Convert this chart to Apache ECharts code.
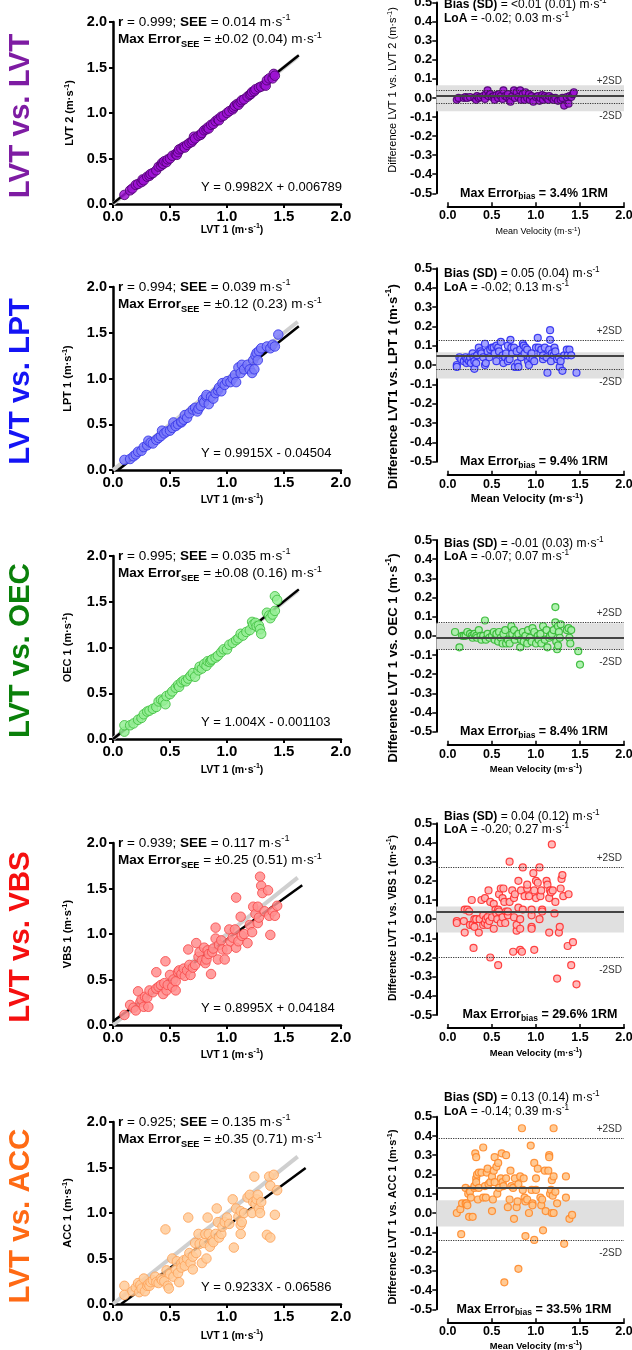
<!DOCTYPE html>
<html>
<head>
<meta charset="utf-8">
<script src="https://cdn.jsdelivr.net/npm/echarts@6/dist/echarts.min.js"></script>
<style>
html, body { margin: 0; padding: 0; background: #fff; }
#chart { width: 632px; height: 1350px; }
</style>
</head>
<body>
<div id="chart"></div>
<script>
var F = 'Liberation Sans, Arial, sans-serif';

// ---- row texts ----
var rowTitles = ['LVT vs. LVT', 'LVT vs. LPT', 'LVT vs. OEC', 'LVT vs. VBS', 'LVT vs. ACC'];
var rowColors = ['#7e1ca3', '#1414f5', '#0a800a', '#f50f0f', '#ff6a14'];
var yNames = ['LVT 2', 'LPT 1', 'OEC 1', 'VBS 1', 'ACC 1'];
var baNames = ['LVT 1 vs. LVT 2', 'LVT1 vs. LPT 1', 'LVT 1 vs. OEC 1', 'LVT 1 vs. VBS 1', 'LVT 1 vs. ACC 1'];
var rStat = ['0.999', '0.994', '0.995', '0.939', '0.925'];
var seeStat = ['0.014', '0.039', '0.035', '0.117', '0.135'];
var maxErrSee = ['±0.02 (0.04)', '±0.12 (0.23)', '±0.08 (0.16)', '±0.25 (0.51)', '±0.35 (0.71)'];
var eqText = ['Y = 0.9982X + 0.006789', 'Y = 0.9915X - 0.04504', 'Y = 1.004X - 0.001103', 'Y = 0.8995X + 0.04184', 'Y = 0.9233X - 0.06586'];
var biasText = ['<0.01 (0.01)', '0.05 (0.04)', '-0.01 (0.03)', '0.04 (0.12)', '0.13 (0.14)'];
var loaText = ['-0.02; 0.03', '-0.02; 0.13', '-0.07; 0.07', '-0.20; 0.27', '-0.14; 0.39'];
var maxErrBias = ['3.4%', '9.4%', '8.4%', '29.6%', '33.5%'];

// ---- regression / agreement values ----
var slopes = [0.9982, 0.9915, 1.004, 0.8995, 0.9233];
var intercepts = [0.006789, -0.04504, -0.001103, 0.04184, -0.06586];
var fitEnds = [1.63, 1.63, 1.63, 1.66, 1.69];
var identityEnd = 1.62;
var biasLine = [0.005, 0.048, -0.005, 0.035, 0.127];
var loaLow = [-0.025, -0.024, -0.068, -0.203, -0.145];
var loaHigh = [0.036, 0.127, 0.067, 0.269, 0.392];
var bandLow = -0.07, bandHigh = 0.066;

// ---- points: [LVT 1, device] ----
var scLVT = [[0.10,0.10],[0.15,0.15],[0.17,0.17],[0.20,0.21],[0.22,0.22],[0.25,0.24],[0.26,0.27],[0.27,0.26],[0.30,0.30],[0.32,0.31],[0.33,0.33],[0.35,0.34],[0.38,0.37],[0.40,0.41],[0.42,0.42],[0.43,0.45],[0.44,0.44],[0.45,0.47],[0.47,0.46],[0.48,0.49],[0.50,0.50],[0.52,0.53],[0.55,0.55],[0.56,0.54],[0.57,0.57],[0.58,0.60],[0.60,0.61],[0.62,0.63],[0.63,0.62],[0.65,0.65],[0.67,0.67],[0.69,0.68],[0.70,0.70],[0.71,0.74],[0.72,0.72],[0.75,0.75],[0.77,0.76],[0.78,0.78],[0.80,0.81],[0.82,0.82],[0.83,0.84],[0.84,0.83],[0.86,0.87],[0.88,0.88],[0.90,0.91],[0.92,0.93],[0.93,0.92],[0.95,0.96],[0.97,0.97],[1.00,1.00],[1.02,1.02],[1.05,1.04],[1.06,1.06],[1.07,1.08],[1.09,1.10],[1.10,1.09],[1.12,1.12],[1.13,1.14],[1.15,1.15],[1.18,1.18],[1.20,1.20],[1.21,1.21],[1.22,1.23],[1.24,1.24],[1.25,1.26],[1.28,1.28],[1.30,1.29],[1.33,1.31],[1.34,1.30],[1.35,1.36],[1.37,1.38],[1.40,1.38],[1.41,1.43],[1.42,1.41]];
var scLPT = [[0.10,0.11],[0.15,0.12],[0.18,0.15],[0.20,0.17],[0.22,0.20],[0.25,0.21],[0.27,0.25],[0.30,0.27],[0.31,0.32],[0.33,0.30],[0.35,0.29],[0.38,0.33],[0.40,0.35],[0.42,0.37],[0.43,0.43],[0.45,0.40],[0.47,0.42],[0.50,0.43],[0.52,0.46],[0.53,0.52],[0.55,0.48],[0.57,0.50],[0.60,0.52],[0.60,0.53],[0.62,0.55],[0.63,0.60],[0.65,0.57],[0.67,0.62],[0.70,0.66],[0.72,0.68],[0.74,0.64],[0.75,0.67],[0.77,0.70],[0.79,0.77],[0.80,0.74],[0.82,0.80],[0.82,0.82],[0.84,0.72],[0.86,0.80],[0.88,0.78],[0.90,0.84],[0.92,0.87],[0.93,0.90],[0.95,0.86],[0.96,0.95],[0.98,0.93],[1.00,0.97],[1.03,0.96],[1.05,1.00],[1.07,1.04],[1.08,0.96],[1.10,1.12],[1.12,1.06],[1.13,1.15],[1.15,1.10],[1.18,1.15],[1.20,1.10],[1.22,1.06],[1.23,1.20],[1.24,1.10],[1.25,1.25],[1.26,1.28],[1.27,1.20],[1.28,1.30],[1.30,1.33],[1.35,1.35],[1.38,1.33],[1.40,1.37],[1.42,1.35],[1.45,1.48]];
var scOEC = [[0.10,0.08],[0.10,0.15],[0.15,0.15],[0.18,0.17],[0.22,0.21],[0.25,0.23],[0.27,0.27],[0.30,0.30],[0.32,0.31],[0.35,0.33],[0.38,0.35],[0.40,0.41],[0.42,0.43],[0.44,0.42],[0.46,0.38],[0.47,0.47],[0.50,0.49],[0.52,0.52],[0.55,0.56],[0.57,0.59],[0.58,0.57],[0.60,0.62],[0.62,0.64],[0.64,0.63],[0.66,0.66],[0.68,0.69],[0.70,0.72],[0.72,0.68],[0.75,0.75],[0.76,0.79],[0.78,0.77],[0.80,0.82],[0.82,0.80],[0.83,0.85],[0.85,0.84],[0.86,0.86],[0.87,0.87],[0.90,0.89],[0.92,0.91],[0.95,0.95],[0.97,0.98],[1.00,0.98],[1.02,1.03],[1.05,1.05],[1.08,1.08],[1.10,1.10],[1.12,1.15],[1.14,1.13],[1.17,1.17],[1.20,1.19],[1.22,1.28],[1.23,1.25],[1.25,1.27],[1.26,1.23],[1.28,1.24],[1.29,1.20],[1.30,1.15],[1.35,1.38],[1.37,1.35],[1.38,1.32],[1.40,1.36],[1.42,1.40],[1.42,1.56],[1.44,1.52]];
var scVBS = [[0.10,0.11],[0.15,0.22],[0.18,0.19],[0.20,0.16],[0.22,0.37],[0.24,0.25],[0.25,0.28],[0.27,0.20],[0.28,0.31],[0.30,0.30],[0.31,0.20],[0.32,0.38],[0.35,0.36],[0.38,0.58],[0.38,0.40],[0.40,0.42],[0.42,0.44],[0.44,0.34],[0.45,0.46],[0.46,0.70],[0.47,0.38],[0.48,0.44],[0.50,0.55],[0.52,0.42],[0.53,0.50],[0.55,0.48],[0.55,0.38],[0.57,0.58],[0.58,0.60],[0.60,0.56],[0.62,0.62],[0.63,0.54],[0.65,0.60],[0.66,0.83],[0.67,0.66],[0.68,0.55],[0.70,0.63],[0.72,0.66],[0.73,0.90],[0.75,0.75],[0.76,0.80],[0.78,0.71],[0.80,0.85],[0.81,0.68],[0.82,0.72],[0.83,0.82],[0.84,0.78],[0.86,0.56],[0.87,0.80],[0.88,0.84],[0.90,1.07],[0.90,0.95],[0.92,0.72],[0.93,0.88],[0.95,0.93],[0.96,0.83],[0.98,0.72],[1.00,0.83],[1.02,1.05],[1.03,0.92],[1.05,0.96],[1.07,1.05],[1.08,1.40],[1.08,0.85],[1.10,0.92],[1.12,1.19],[1.13,0.98],[1.15,1.00],[1.18,0.90],[1.20,1.10],[1.22,1.02],[1.23,1.30],[1.25,1.22],[1.27,1.12],[1.27,1.30],[1.28,1.18],[1.29,1.63],[1.30,1.53],[1.31,1.45],[1.33,1.25],[1.36,1.48],[1.37,1.20],[1.38,0.99],[1.40,1.25],[1.42,1.20],[1.44,1.31]];
var scACC = [[0.10,0.20],[0.10,0.10],[0.17,0.14],[0.20,0.18],[0.22,0.23],[0.23,0.13],[0.24,0.21],[0.25,0.17],[0.27,0.28],[0.28,0.14],[0.30,0.20],[0.31,0.22],[0.32,0.20],[0.33,0.24],[0.35,0.26],[0.37,0.30],[0.38,0.24],[0.40,0.23],[0.42,0.28],[0.43,0.26],[0.45,0.25],[0.46,0.82],[0.47,0.37],[0.48,0.20],[0.49,0.17],[0.50,0.33],[0.52,0.50],[0.53,0.30],[0.55,0.38],[0.56,0.47],[0.57,0.34],[0.58,0.24],[0.60,0.45],[0.60,0.40],[0.62,0.48],[0.63,0.42],[0.65,0.50],[0.66,0.95],[0.67,0.56],[0.68,0.45],[0.70,0.38],[0.70,0.52],[0.72,0.67],[0.73,0.56],[0.75,0.77],[0.76,0.66],[0.78,0.45],[0.80,0.67],[0.81,0.77],[0.82,0.50],[0.83,0.95],[0.84,0.77],[0.85,0.63],[0.87,0.70],[0.88,0.68],[0.90,0.77],[0.91,1.05],[0.92,0.90],[0.93,0.73],[0.95,0.77],[0.96,0.85],[0.98,0.90],[1.00,0.95],[1.02,0.88],[1.05,1.15],[1.06,0.62],[1.08,1.05],[1.10,0.96],[1.12,0.77],[1.12,0.87],[1.12,1.02],[1.13,0.90],[1.15,1.00],[1.18,1.17],[1.20,1.20],[1.22,1.00],[1.23,1.12],[1.24,1.40],[1.25,1.10],[1.26,1.15],[1.27,1.20],[1.28,1.05],[1.29,1.00],[1.30,1.12],[1.35,0.76],[1.37,1.40],[1.38,1.30],[1.38,0.73],[1.41,1.42],[1.42,0.98],[1.44,1.25]];

// ---- points: [mean velocity, difference] ----
var baLVT = [[0.10,-0.01],[0.12,0.00],[0.18,0.00],[0.20,0.005],[0.22,0.00],[0.25,0.005],[0.30,0.00],[0.32,-0.01],[0.33,0.01],[0.35,0.00],[0.37,0.005],[0.40,0.01],[0.42,-0.005],[0.43,0.02],[0.45,0.04],[0.46,0.01],[0.48,0.02],[0.50,0.005],[0.52,0.01],[0.53,-0.01],[0.55,0.015],[0.57,0.00],[0.58,0.02],[0.60,0.01],[0.62,-0.005],[0.63,0.04],[0.65,0.01],[0.67,0.005],[0.68,0.02],[0.70,-0.01],[0.71,-0.02],[0.73,0.01],[0.75,0.04],[0.76,0.00],[0.78,0.03],[0.80,0.005],[0.82,0.04],[0.83,-0.01],[0.85,0.02],[0.87,-0.01],[0.88,0.03],[0.90,0.00],[0.92,0.02],[0.93,-0.01],[0.95,0.01],[0.97,-0.02],[1.00,0.005],[1.02,0.01],[1.04,-0.015],[1.05,0.00],[1.07,0.015],[1.08,-0.01],[1.10,0.01],[1.12,0.00],[1.14,-0.01],[1.15,0.01],[1.18,0.00],[1.20,-0.01],[1.22,0.00],[1.25,-0.015],[1.28,-0.01],[1.30,0.00],[1.32,-0.04],[1.35,0.005],[1.37,-0.03],[1.38,0.01],[1.40,0.005],[1.42,0.02],[1.43,0.03]];
var baLPT = [[0.10,0.00],[0.10,-0.01],[0.13,0.04],[0.15,0.03],[0.18,0.02],[0.20,0.04],[0.21,0.01],[0.22,0.03],[0.24,0.02],[0.25,0.04],[0.26,0.01],[0.28,0.06],[0.29,0.04],[0.30,0.02],[0.30,-0.02],[0.32,0.01],[0.33,0.05],[0.35,0.09],[0.37,0.07],[0.38,0.06],[0.40,0.04],[0.42,0.11],[0.42,0.00],[0.43,0.01],[0.45,0.07],[0.47,0.04],[0.48,0.08],[0.50,0.09],[0.52,0.09],[0.53,0.06],[0.55,0.10],[0.55,0.02],[0.57,0.09],[0.58,0.07],[0.60,0.12],[0.62,0.05],[0.63,0.01],[0.65,0.04],[0.66,0.06],[0.68,0.10],[0.68,0.02],[0.70,0.03],[0.71,0.13],[0.72,0.09],[0.73,0.06],[0.75,0.09],[0.76,-0.01],[0.78,0.07],[0.79,0.01],[0.80,-0.01],[0.82,0.08],[0.83,0.04],[0.85,0.11],[0.86,0.10],[0.87,0.06],[0.88,0.09],[0.90,0.08],[0.91,0.02],[0.92,0.00],[0.93,0.04],[0.95,0.06],[0.96,0.03],[0.98,0.02],[1.00,0.09],[1.02,0.14],[1.03,0.09],[1.05,0.06],[1.06,0.08],[1.08,0.03],[1.08,0.05],[1.10,0.09],[1.12,0.04],[1.13,-0.04],[1.15,0.08],[1.16,0.18],[1.16,0.13],[1.17,0.02],[1.18,0.06],[1.20,0.05],[1.21,0.09],[1.22,0.07],[1.24,0.03],[1.26,0.04],[1.27,-0.01],[1.28,0.02],[1.30,-0.03],[1.32,0.05],[1.35,0.08],[1.36,0.05],[1.38,0.08],[1.40,0.05],[1.46,-0.04]];
var baOEC = [[0.08,0.02],[0.13,-0.06],[0.16,0.00],[0.18,0.00],[0.20,0.00],[0.22,0.02],[0.25,0.01],[0.27,0.00],[0.28,-0.01],[0.30,0.01],[0.32,0.00],[0.33,-0.01],[0.35,0.03],[0.37,0.00],[0.38,-0.02],[0.40,0.00],[0.42,0.08],[0.43,-0.02],[0.45,0.01],[0.47,-0.01],[0.50,0.00],[0.52,0.02],[0.53,-0.02],[0.55,0.01],[0.57,-0.03],[0.58,0.02],[0.60,-0.01],[0.62,-0.04],[0.63,0.01],[0.65,0.03],[0.66,-0.04],[0.68,-0.02],[0.70,-0.04],[0.72,0.05],[0.73,0.01],[0.75,0.03],[0.76,-0.02],[0.78,0.00],[0.80,0.01],[0.82,-0.06],[0.83,-0.02],[0.85,0.02],[0.86,-0.03],[0.88,0.00],[0.90,-0.04],[0.91,0.03],[0.93,-0.01],[0.95,-0.03],[0.96,0.04],[0.98,0.02],[1.00,-0.04],[1.02,0.00],[1.03,-0.02],[1.05,0.01],[1.06,-0.04],[1.08,0.05],[1.10,-0.02],[1.12,0.03],[1.13,-0.06],[1.15,-0.01],[1.16,0.00],[1.18,0.01],[1.20,0.03],[1.22,0.07],[1.22,0.15],[1.23,-0.03],[1.24,-0.07],[1.25,0.05],[1.25,-0.05],[1.26,0.02],[1.27,-0.01],[1.28,0.06],[1.35,0.03],[1.37,0.04],[1.38,-0.01],[1.39,-0.04],[1.40,0.03],[1.48,-0.08],[1.50,-0.15]];
var baVBS = [[0.10,-0.01],[0.10,-0.02],[0.18,-0.01],[0.19,0.05],[0.19,-0.07],[0.22,0.05],[0.24,0.04],[0.25,-0.03],[0.27,0.10],[0.28,-0.03],[0.29,-0.15],[0.30,0.00],[0.30,-0.04],[0.32,0.00],[0.35,-0.07],[0.36,0.00],[0.38,0.10],[0.40,-0.03],[0.40,0.02],[0.42,-0.02],[0.42,0.11],[0.43,0.00],[0.45,0.01],[0.45,-0.03],[0.46,0.15],[0.47,-0.01],[0.48,-0.20],[0.48,0.09],[0.50,0.01],[0.52,-0.05],[0.52,0.08],[0.54,0.05],[0.55,0.03],[0.56,0.00],[0.57,0.05],[0.57,-0.24],[0.58,0.13],[0.58,0.04],[0.60,0.16],[0.60,-0.02],[0.62,0.11],[0.62,0.01],[0.63,0.16],[0.64,0.09],[0.65,-0.02],[0.66,0.04],[0.68,0.02],[0.68,0.04],[0.70,0.30],[0.70,0.09],[0.73,0.15],[0.74,-0.17],[0.75,0.11],[0.75,0.01],[0.76,0.13],[0.78,-0.06],[0.78,-0.03],[0.80,0.06],[0.80,0.20],[0.82,-0.16],[0.82,0.00],[0.82,-0.05],[0.83,0.15],[0.84,-0.17],[0.85,0.27],[0.85,0.05],[0.87,0.12],[0.90,0.16],[0.90,0.18],[0.92,0.12],[0.95,-0.04],[0.95,-0.05],[0.95,0.02],[0.95,0.05],[0.97,0.24],[0.98,0.15],[0.98,-0.16],[1.00,0.20],[1.00,0.11],[1.02,0.19],[1.04,0.27],[1.04,0.00],[1.05,0.12],[1.06,0.15],[1.07,0.05],[1.07,0.04],[1.12,0.20],[1.13,0.18],[1.15,-0.07],[1.15,0.11],[1.16,0.15],[1.17,0.14],[1.18,0.39],[1.19,0.15],[1.21,0.03],[1.22,0.09],[1.24,-0.31],[1.26,-0.07],[1.27,-0.04],[1.28,0.16],[1.29,0.21],[1.30,0.23],[1.31,0.12],[1.36,-0.14],[1.37,0.13],[1.40,-0.24],[1.42,-0.12],[1.46,-0.34]];
var baACC = [[0.10,0.00],[0.14,0.02],[0.15,-0.11],[0.16,0.05],[0.20,0.13],[0.20,0.05],[0.21,0.05],[0.22,0.04],[0.23,0.10],[0.24,-0.02],[0.25,0.12],[0.25,0.11],[0.26,0.08],[0.28,-0.02],[0.30,0.13],[0.30,0.14],[0.31,0.31],[0.32,0.29],[0.32,0.18],[0.32,0.16],[0.33,0.20],[0.34,0.07],[0.35,0.21],[0.35,0.13],[0.38,0.21],[0.40,0.34],[0.40,0.08],[0.42,0.14],[0.43,0.08],[0.44,0.21],[0.45,0.23],[0.46,0.15],[0.48,0.16],[0.50,0.19],[0.50,0.01],[0.51,0.07],[0.52,0.22],[0.53,0.29],[0.53,0.16],[0.55,0.24],[0.56,0.10],[0.57,0.26],[0.58,0.13],[0.60,0.18],[0.61,0.31],[0.62,0.16],[0.63,0.14],[0.64,-0.36],[0.66,0.30],[0.66,0.18],[0.68,0.03],[0.70,0.07],[0.71,0.22],[0.72,0.14],[0.74,0.13],[0.75,-0.03],[0.76,0.18],[0.78,0.03],[0.79,0.06],[0.80,-0.29],[0.80,0.15],[0.82,0.19],[0.84,0.44],[0.85,0.12],[0.86,0.18],[0.87,0.08],[0.88,-0.12],[0.88,0.06],[0.90,0.07],[0.92,0.00],[0.94,0.35],[0.95,0.12],[0.96,0.05],[0.96,0.04],[0.98,-0.14],[0.98,0.26],[1.00,0.18],[1.00,0.12],[1.02,0.23],[1.05,0.08],[1.06,0.04],[1.07,0.07],[1.08,-0.09],[1.10,0.22],[1.11,0.01],[1.14,0.22],[1.15,0.30],[1.15,0.29],[1.16,0.10],[1.17,0.12],[1.18,0.17],[1.18,0.00],[1.19,0.09],[1.20,0.44],[1.20,0.19],[1.20,0.00],[1.22,0.11],[1.24,0.05],[1.32,-0.16],[1.34,0.19],[1.34,0.08],[1.38,-0.03],[1.41,-0.01]];

var scatterSets = [scLVT, scLPT, scOEC, scVBS, scACC];
var baSets = [baLVT, baLPT, baOEC, baVBS, baACC];

var ptFill = ['#9d12d4', '#7d7dfa', '#95ef95', '#ff8e8e', '#ffcb9a'];
var ptBorder = ['#4d0070', '#3535e8', '#3fbf3f', '#f84a4a', '#fda35a'];
var baFill = ['#9d12d4', '#9a9aff', '#a8f0a8', '#ffb3b3', '#ffc48a'];
var baBorder = ['#4d0070', '#2d2df0', '#33b833', '#ff3030', '#ff8a2a'];

// ---- layout (px) ----
var scTop = [22, 287, 556, 843, 1122];
var scBot = [204, 470, 739, 1025, 1304];
var baTop = [2.6, 268.3, 540, 823.3, 1116.7];
var baBot = [193.3, 461.7, 731.7, 1015, 1309.3];
var baTextY = [5, 274, 543.5, 816.5, 1098];
var baTitleY = [90, 386.6, 658, 918, 1217];
var baTitleSize = [11, 13.2, 13, 10.4, 10.9];
var mvY = [232, 499, 769, 1053, 1346];
var mvSize = [9, 11.3, 9.3, 9.3, 9.3];
var mvX = [538, 527, 536, 536, 536];
var scXTitleY = [230, 500, 770, 1055, 1336];

function rich(size, weight) {
  var s = Math.round(size * 0.68 * 10) / 10;
  var lh = Math.round(size * 1.3);
  return {
    n: { fontSize: size, fontFamily: F, fontWeight: 'normal', fill: '#000', lineHeight: lh },
    b: { fontSize: size, fontFamily: F, fontWeight: 'bold', fill: '#000', lineHeight: lh },
    t: { fontSize: size, fontFamily: F, fontWeight: weight, fill: '#000', lineHeight: lh },
    sup: { fontSize: s, fontFamily: F, fontWeight: weight, fill: '#000', lineHeight: s, verticalAlign: 'top' },
    sub: { fontSize: s, fontFamily: F, fontWeight: 'bold', fill: '#000', lineHeight: s, verticalAlign: 'bottom' }
  };
}

function txt(x, y, text, size, weight, align, rot) {
  return {
    type: 'text', x: x, y: y, rotation: rot || 0, silent: true, z: 100,
    style: { text: text, rich: rich(size, weight), align: align || 'left', verticalAlign: 'middle' }
  };
}

function tickLabel(size, margin) {
  return { color: '#000', fontFamily: F, fontSize: size, fontWeight: 'bold', margin: margin,
    formatter: function (v) { return (Math.abs(v) < 1e-9 ? 0 : v).toFixed(1); } };
}

var grids = [], xAxes = [], yAxes = [], series = [], graphics = [];

for (var i = 0; i < 5; i++) {
  // ---------- scatter panel ----------
  var g = grids.length;
  grids.push({ left: 113, width: 228, top: scTop[i], height: scBot[i] - scTop[i], containLabel: false, outerBoundsMode: 'none' });
  xAxes.push({ gridIndex: g, type: 'value', min: 0, max: 2, interval: 0.5,
    axisLine: { show: true, onZero: false, lineStyle: { color: '#000', width: 2.5 } },
    axisTick: { show: true, length: 4, lineStyle: { color: '#000', width: 2 } },
    splitLine: { show: false }, axisLabel: tickLabel(15, 5) });
  yAxes.push({ gridIndex: g, type: 'value', min: 0, max: 2, interval: 0.5,
    axisLine: { show: true, onZero: false, lineStyle: { color: '#000', width: 2.5 } },
    axisTick: { show: true, length: 4, lineStyle: { color: '#000', width: 2 } },
    splitLine: { show: false }, axisLabel: tickLabel(14.5, 6) });

  var x0 = Math.max(0, -intercepts[i] / slopes[i]);
  series.push({ type: 'line', xAxisIndex: g, yAxisIndex: g, symbol: 'none', silent: true, z: 1,
    data: [[0, 0], [identityEnd, identityEnd]], lineStyle: { color: '#cfcfcf', width: 4 } });
  series.push({ type: 'line', xAxisIndex: g, yAxisIndex: g, symbol: 'none', silent: true, z: 2,
    data: [[x0, slopes[i] * x0 + intercepts[i]], [fitEnds[i], slopes[i] * fitEnds[i] + intercepts[i]]],
    lineStyle: { color: '#000', width: 2.5 } });
  series.push({ type: 'scatter', xAxisIndex: g, yAxisIndex: g, silent: true, z: 3, symbolSize: 9.5,
    data: scatterSets[i],
    itemStyle: { color: ptFill[i], borderColor: ptBorder[i], borderWidth: 1, opacity: 0.85 } });

  // ---------- Bland-Altman panel ----------
  var b = grids.length;
  grids.push({ left: 436.3, width: 187.7, top: baTop[i], height: baBot[i] - baTop[i], containLabel: false, outerBoundsMode: 'none' });
  xAxes.push({ gridIndex: b, type: 'value', min: -0.133, max: 2, show: false });
  yAxes.push({ gridIndex: b, type: 'value', min: -0.5, max: 0.5, interval: 0.1,
    axisLine: { show: true, onZero: false, lineStyle: { color: '#000', width: 2 } },
    axisTick: { show: true, length: 4, lineStyle: { color: '#000', width: 1.5 } },
    splitLine: { show: false }, axisLabel: tickLabel(13, 4) });

  var sdLabel = { color: '#333', fontFamily: F, fontSize: 10 };
  series.push({ type: 'line', xAxisIndex: b, yAxisIndex: b, data: [], silent: true, z: 0,
    markArea: { silent: true, itemStyle: { color: '#e0e0e0' }, data: [[{ yAxis: bandLow }, { yAxis: bandHigh }]] } });
  series.push({ type: 'line', xAxisIndex: b, yAxisIndex: b, data: [], silent: true, z: 1,
    markLine: { silent: true, symbol: 'none', animation: false,
      data: [
        { yAxis: biasLine[i], lineStyle: { color: '#444', width: 2, type: 'solid' }, label: { show: false } },
        { yAxis: loaHigh[i], lineStyle: { color: '#333', width: 1.2, type: 'dotted' },
          label: Object.assign({ show: true, position: 'insideEndTop', formatter: '+2SD', distance: [2, 4] }, sdLabel) },
        { yAxis: loaLow[i], lineStyle: { color: '#333', width: 1.2, type: 'dotted' },
          label: Object.assign({ show: true, position: 'insideEndBottom', formatter: '-2SD', distance: [2, 8] }, sdLabel) }
      ] } });
  series.push({ type: 'scatter', xAxisIndex: b, yAxisIndex: b, silent: true, z: 3, symbolSize: 7,
    data: baSets[i],
    itemStyle: { color: baFill[i], borderColor: baBorder[i], borderWidth: 1.2, opacity: 0.9 } });

  // visible x axis of the Bland-Altman panel (starts at 0, offset below)
  var v = grids.length;
  grids.push({ left: 447.7, width: 176.3, top: baTop[i], height: baBot[i] - baTop[i], containLabel: false, outerBoundsMode: 'none' });
  xAxes.push({ gridIndex: v, type: 'value', min: 0, max: 2, interval: 0.5, offset: 13,
    axisLine: { show: true, onZero: false, lineStyle: { color: '#000', width: 2 } },
    axisTick: { show: true, inside: true, length: 4, lineStyle: { color: '#000', width: 1.5 } },
    splitLine: { show: false }, axisLabel: tickLabel(12.5, 3) });
  yAxes.push({ gridIndex: v, type: 'value', min: 0, max: 1, show: false });

  // ---------- texts ----------
  var scMid = (scTop[i] + scBot[i]) / 2;
  graphics.push({ type: 'text', x: 21, y: scMid + 3, rotation: Math.PI / 2, silent: true,
    style: { text: rowTitles[i], fontSize: 29.5, fontWeight: 'bold', fontFamily: F, fill: rowColors[i],
      align: 'center', verticalAlign: 'middle' } });

  graphics.push(txt(118, scTop[i], '{b|r}{n| = ' + rStat[i] + '; }{b|SEE}{n| = ' + seeStat[i] + ' m·s}{sup|-1}', 13.5, 'normal'));
  graphics.push(txt(118, scTop[i] + 17.5, '{b|Max Error}{sub|SEE}{n| = ' + maxErrSee[i] + ' m·s}{sup|-1}', 13.5, 'normal'));
  graphics.push(txt(201, scBot[i] - 16.5, '{n|' + eqText[i] + '}', 13, 'normal'));
  graphics.push(txt(i === 0 ? 70 : 68, scMid, '{t|' + yNames[i] + ' (m·s}{sup|-1}{t|)}', 11, 'bold', 'center', Math.PI / 2));
  graphics.push(txt(232, scXTitleY[i], '{t|LVT 1 (m·s}{sup|-1}{t|)}', 10.5, 'bold', 'center'));

  var baW = i === 0 ? 'normal' : 'bold';
  graphics.push(txt(444, baTextY[i], '{b|Bias (SD)}{n| = ' + biasText[i] + ' m·s}{sup|-1}', 12, 'normal'));
  graphics.push(txt(444, baTextY[i] + 13.5, '{b|LoA}{n| = ' + loaText[i] + ' m·s}{sup|-1}', 12, 'normal'));
  graphics.push(txt(i === 3 ? 540 : 534, baBot[i], '{t|Max Error}{sub|bias}{t| = ' + maxErrBias[i] + ' 1RM}', 12.5, 'bold', 'center'));
  graphics.push(txt(393, baTitleY[i], '{t|Difference ' + baNames[i] + ' (m·s}{sup|-1}{t|)}', baTitleSize[i], baW, 'center', Math.PI / 2));
  graphics.push(txt(mvX[i], mvY[i], '{t|Mean Velocity (m·s}{sup|-1}{t|)}', mvSize[i], baW, 'center'));
}

var chart = echarts.init(document.getElementById('chart'), null, { renderer: 'canvas' });
chart.setOption({
  animation: false,
  backgroundColor: '#fff',
  grid: grids,
  xAxis: xAxes,
  yAxis: yAxes,
  series: series,
  graphic: graphics
});
</script>
</body>
</html>
